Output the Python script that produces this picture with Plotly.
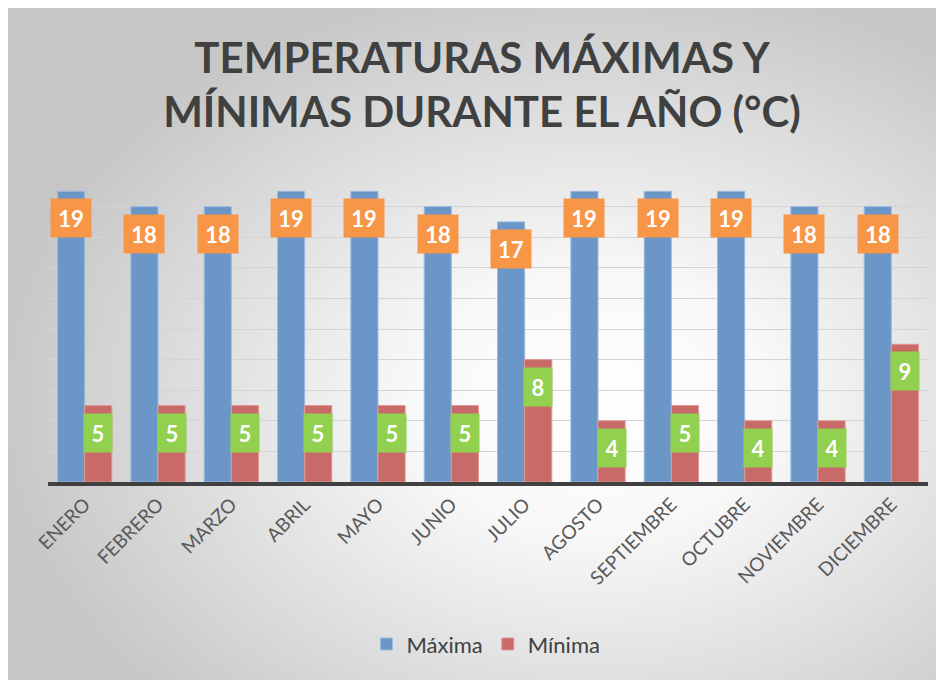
import base64
import plotly.graph_objects as go

meses = ["ENERO", "FEBRERO", "MARZO", "ABRIL", "MAYO", "JUNIO", "JULIO",
         "AGOSTO", "SEPTIEMBRE", "OCTUBRE", "NOVIEMBRE", "DICIEMBRE"]
maxima = [19, 18, 18, 19, 19, 18, 17, 19, 19, 19, 18, 18]
minima = [5, 5, 5, 5, 5, 5, 8, 4, 5, 4, 4, 9]
grid_ticks = [2, 4, 6, 8, 10, 12, 14, 16, 18]

W, H = 944, 680
ML, MR, MT, MB = 40, 24, 168, 206
PW, PH = W - ML - MR, H - MT - MB

svg = f'''<svg xmlns="http://www.w3.org/2000/svg" width="{W}" height="{H}" viewBox="0 0 {W} {H}">
<defs><radialGradient id="g" cx="0.62" cy="0.58" r="0.64" gradientUnits="objectBoundingBox">
<stop offset="0" stop-color="#ffffff"/><stop offset="0.3" stop-color="#f8f8f8"/>
<stop offset="1" stop-color="#c6c6c6"/></radialGradient></defs>
<rect x="0" y="0" width="{W}" height="{H}" fill="url(#g)"/></svg>'''
src = "data:image/svg+xml;base64," + base64.b64encode(svg.encode()).decode()

fig = go.Figure()
fig.add_trace(go.Bar(x=meses, y=maxima, name="Máxima",
                     marker=dict(color="#6a96c8", line=dict(color="#9dbbe0", width=1))))
fig.add_trace(go.Bar(x=meses, y=minima, name="Mínima",
                     marker=dict(color="#c86a67", line=dict(color="#e09896", width=1))))

annots = []
for i, (mx, mn) in enumerate(zip(maxima, minima)):
    annots.append(dict(x=i - 0.185, y=mx, xref="x", yref="y", text=f"<b>{mx}</b>",
                       showarrow=False, yanchor="top", yshift=-7, width=40, height=38,
                       borderpad=0, bgcolor="#f79646",
                       font=dict(family="Lato", size=22, color="white")))
    annots.append(dict(x=i + 0.185, y=mn, xref="x", yref="y", text=f"<b>{mn}</b>",
                       showarrow=False, yanchor="top", yshift=-7, width=28, height=38,
                       borderpad=0, bgcolor="#92d050",
                       font=dict(family="Lato", size=22, color="white")))

fig.update_layout(
    width=W, height=H,
    margin=dict(l=ML, r=MR, t=MT, b=MB),
    paper_bgcolor="white", plot_bgcolor="rgba(0,0,0,0)",
    images=[dict(source=src, xref="paper", yref="paper",
                 x=-ML / PW, y=(H - MB) / PH,
                 sizex=W / PW, sizey=H / PH,
                 xanchor="left", yanchor="top", sizing="stretch", layer="below")],
    title=dict(text="<b>TEMPERATURAS MÁXIMAS Y<br>MÍNIMAS DURANTE EL AÑO (°C)</b>",
               x=474 / W, xanchor="center", y=0.905, yanchor="middle",
               font=dict(family="Lato", size=42, color="#404040")),
    barmode="group", bargap=0.26, bargroupgap=0.0,
    xaxis=dict(tickangle=-45, showline=True, linewidth=4, linecolor="#404040",
               tickfont=dict(family="Lato", size=19, color="#595959"),
               showgrid=False, ticks=""),
    yaxis=dict(range=[0, 20], tickvals=grid_ticks, showticklabels=False,
               showgrid=True, gridcolor="#d4d4d4", gridwidth=1, zeroline=False),
    legend=dict(orientation="h", x=(478 - ML) / PW, xanchor="center", y=-0.53,
                yanchor="middle",
                font=dict(family="Lato", size=22, color="#404040"),
                bgcolor="rgba(0,0,0,0)"),
    annotations=annots,
    showlegend=True,
)

fig.write_html("out.html")
